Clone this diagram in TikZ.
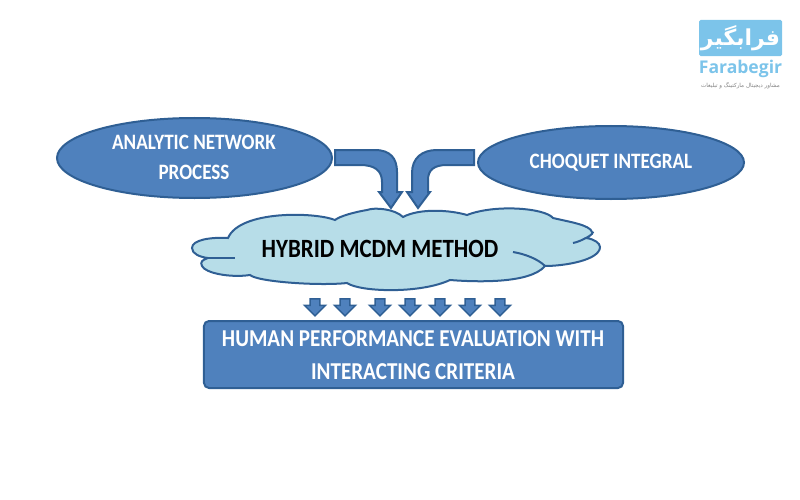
\documentclass[tikz,border=0pt]{standalone}
\usepackage{fontspec}
\setmainfont{Carlito}
\newfontfamily\labelfont[FakeStretch=0.87]{Carlito}
\newfontfamily\arabicfont[Script=Arabic]{DejaVu Sans}
\newfontfamily\logofont{Open Sans}
\TeXXeTstate=1
\usepackage{xcolor}
\usetikzlibrary{shapes,arrows,positioning}

\definecolor{boxblue}{HTML}{4F81BD}
\definecolor{edgeblue}{HTML}{2F5F94}
\definecolor{cloudblue}{HTML}{B7DDE8}
\definecolor{logoblue}{HTML}{7CC4EA}

\tikzset{
    source/.style={draw=edgeblue, line width=0.4mm, fill=boxblue, ellipse, inner sep=0pt},
    result/.style={draw=edgeblue, line width=0.4mm, fill=boxblue, rectangle, rounded corners=1mm, inner sep=0pt},
    whitelabel/.style={text=white, font=\labelfont\bfseries\fontsize{12.5}{17}\selectfont, align=center},
    elbow/.style={draw=edgeblue, line width=0.4mm, fill=boxblue},
    cloudline/.style={draw=edgeblue, line width=0.4mm},
    smallarrow/.style={draw=edgeblue, line width=0.3mm, fill=boxblue, single arrow, rotate=-90, inner sep=2.2pt,
        minimum height=3.4mm, minimum width=4.2mm, single arrow head extend=1.1mm}
}

\begin{document}
\begin{tikzpicture}[x=0.2mm, y=-0.2mm]
    \useasboundingbox (0,0) rectangle (800,500);

    \node[source, minimum width=55mm, minimum height=16mm] (anp) at (194.5,158) {};
    \node[source, minimum width=53.2mm, minimum height=14.6mm] (choquet) at (611,162.5) {};
    \node[result, minimum width=83.8mm, minimum height=13.4mm] (human) at (413.5,354.5) {};

    % cloud outline
    \draw[cloudline, fill=cloudblue]
        (228,238) .. controls (210,237) and (192,240) .. (192,248)
        .. controls (192,254) and (200,257) .. (208,258)
        .. controls (202,260) and (200,262) .. (202,266)
        .. controls (205,273) and (230,278) .. (250,275)
        .. controls (258,282) and (320,286) .. (347,283)
        .. controls (360,292) and (420,294) .. (450,280)
        .. controls (475,282) and (530,284) .. (545,266)
        .. controls (565,266) and (600,260) .. (600,247)
        .. controls (600,243) and (594,239) .. (586,238)
        .. controls (592,235) and (594,232) .. (592,232)
        .. controls (590,225) and (570,222) .. (553,218)
        .. controls (545,208) and (495,204) .. (467,215)
        .. controls (450,210) and (420,208) .. (403,217)
        .. controls (395,209) and (375,207) .. (367,210)
        .. controls (355,212) and (340,216) .. (335,220)
        .. controls (315,212) and (240,210) .. (228,238) -- cycle;
    \draw[cloudline] (513,252) .. controls (525,254) and (538,259) .. (545,266);
    \draw[cloudline] (573,243) .. controls (578,242) and (582,240) .. (586,238);
    \draw[cloudline] (208,258) -- (235,258);

    % elbow arrows
    \coordinate (anpout) at (335,150);
    \coordinate (choquetout) at (474,150);
    \draw[elbow] (anpout) -- (375,150) .. controls (390,150) and (397,158) .. (397,172)
        -- (397,192) -- (402,192) -- (391,208) -- (379,192) -- (382,192) -- (382,182)
        .. controls (382,170) and (374,165) .. (360,165) -- (335,165) -- cycle;
    \draw[elbow] (choquetout) -- (437,150) .. controls (422,150) and (412,158) .. (412,173)
        -- (412,192) -- (407,192) -- (418,208) -- (430,192) -- (428,192) -- (428,180)
        .. controls (428,170) and (434,165) .. (447,165) -- (474,165) -- cycle;

    % small arrows
    \foreach \xpos/\name in {315/a,345/b,380/c,410/d,440/e,470/f,500/g}
        \node[smallarrow] (down\name) at (\xpos,305) {};

    \node[whitelabel] (anptext) at (194,157) {ANALYTIC NETWORK\\PROCESS};
    \node[whitelabel] (choquettext) at (611,163) {CHOQUET INTEGRAL};
    \node[font=\labelfont\bfseries\fontsize{15}{16}\selectfont] (hybrid) at (380,249) {HYBRID MCDM METHOD};
    \node[whitelabel, font=\labelfont\bfseries\fontsize{13.8}{18.5}\selectfont] (humantext) at (413,355) {HUMAN PERFORMANCE EVALUATION WITH\\INTERACTING CRITERIA};

    % logo
    \node[fill=logoblue, minimum width=16.6mm, minimum height=7.2mm, inner sep=0pt, rounded corners=0.3mm] (logo) at (740.5,38)
        {\arabicfont\bfseries\fontsize{12.5}{12}\selectfont\color{white}\beginR فرابگیر\endR};
    \node[below=0.6mm of logo, inner sep=0pt, text=logoblue, font=\logofont\bfseries\fontsize{10}{10}\selectfont] (logoname) {Farabegir};
    \node[below=0.8mm of logoname, inner sep=0pt, text=gray] (logotag)
        {\arabicfont\fontsize{3.2}{3.5}\selectfont\beginR مشاور دیجیتال مارکتینگ و تبلیغات\endR};
\end{tikzpicture}
\end{document}
